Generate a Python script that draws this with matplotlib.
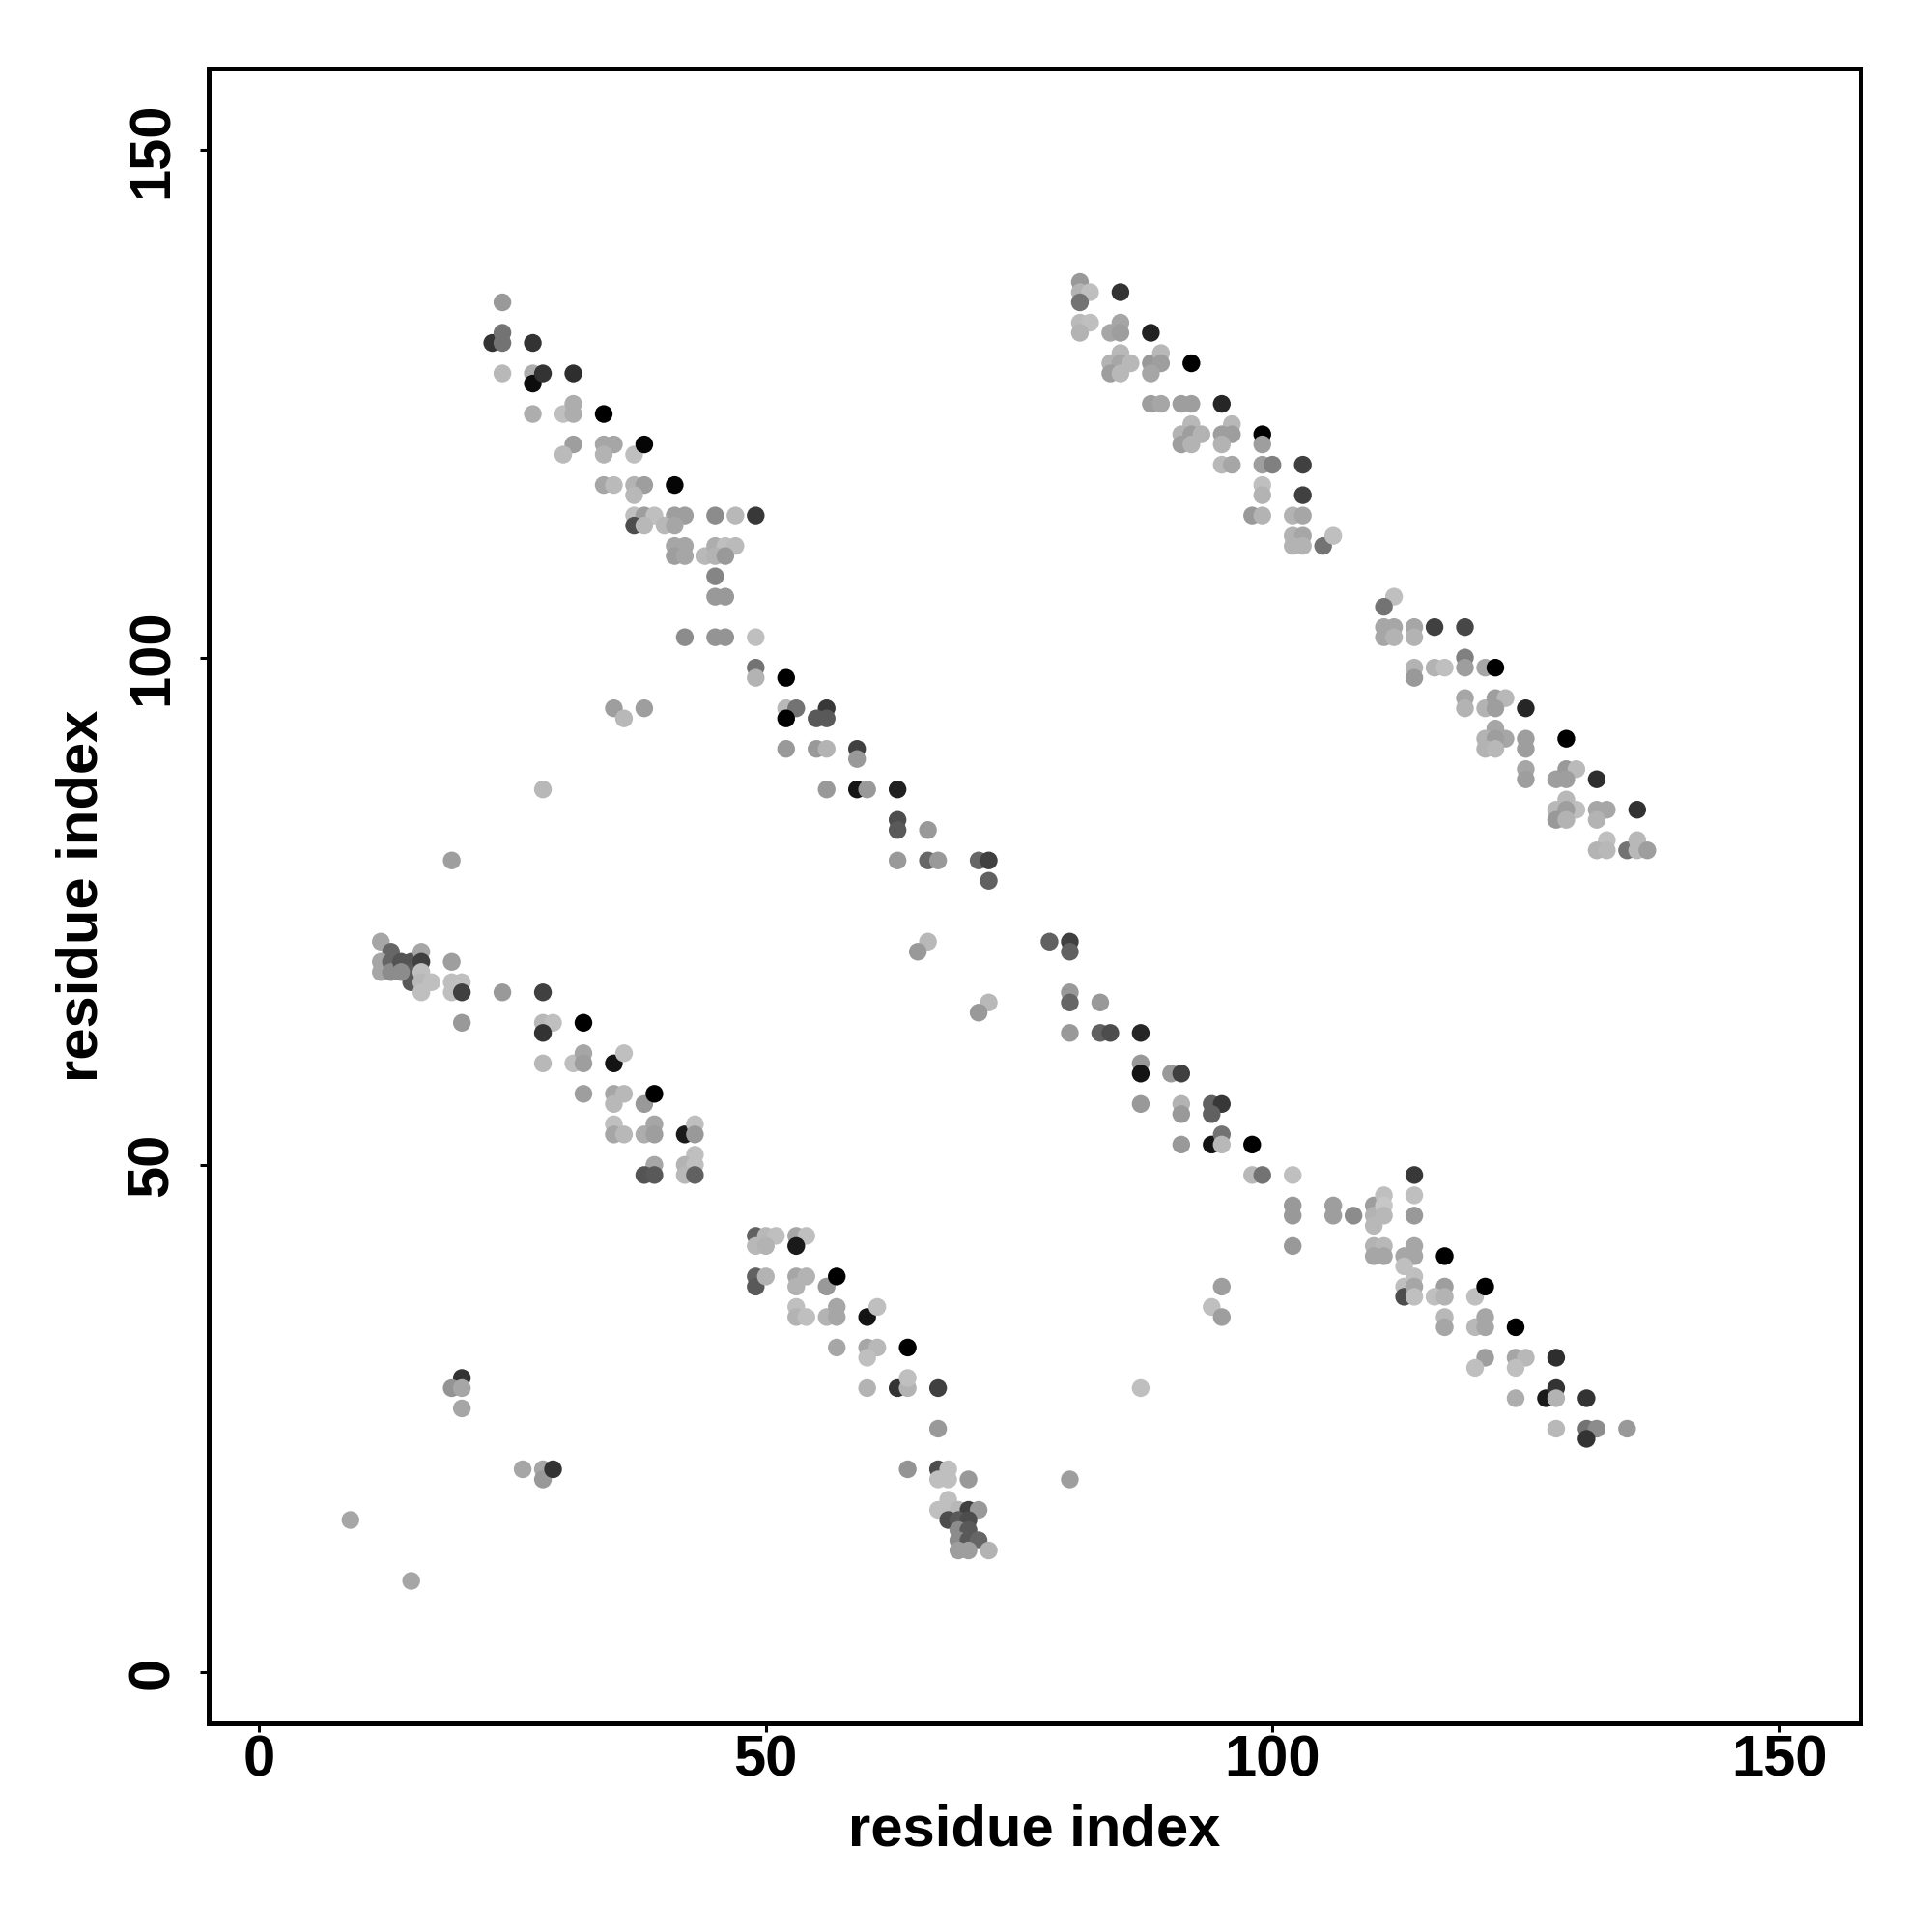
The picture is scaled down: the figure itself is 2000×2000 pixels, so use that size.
import matplotlib
matplotlib.use("Agg")
import matplotlib.pyplot as plt

plt.rcParams['font.family'] = ['Liberation Sans', 'DejaVu Sans']

# ---- data: contact pairs (residue i, residue j) and gray level of each point ----
# upper-left band
ul_x = [24, 23, 24, 24, 27, 24, 27, 27, 28, 31, 27, 30, 31, 31, 34, 31, 30, 34, 35, 34,
        37, 38, 34, 35, 37, 38, 37, 41, 37, 38, 39, 41, 42, 37, 38, 40, 41, 45, 47, 49,
        41, 42, 41, 42, 44, 45, 46, 47, 45, 46, 45, 45, 46, 42, 45, 46, 49, 49, 49, 52,
        52, 53, 52, 56, 55, 56, 52, 55, 56, 59, 59, 56, 59, 60, 63, 63, 63, 66, 63, 66,
        67, 71, 72, 72]
ul_y = [135, 131, 132, 131, 131, 128, 128, 127, 128, 128, 124, 124, 125, 124, 124, 121, 120, 121, 121, 120,
        120, 121, 117, 117, 117, 117, 116, 117, 114, 114, 114, 114, 114, 113, 113, 113, 113, 114, 114, 114,
        111, 111, 110, 110, 110, 111, 111, 111, 110, 110, 108, 106, 106, 102, 102, 102, 102, 99, 98, 98,
        95, 95, 94, 95, 94, 94, 91, 91, 91, 91, 90, 87, 87, 87, 87, 84, 83, 83, 80, 80,
        80, 80, 80, 78]
ul_g = [.60, .20, .45, .45, .20, .72, .68, .05, .20, .18, .68, .75, .68, .68, .00, .62, .73, .65, .65, .70,
        .75, .02, .65, .73, .70, .62, .72, .02, .75, .62, .75, .62, .62, .30, .72, .72, .65, .55, .72, .22,
        .65, .65, .62, .65, .72, .68, .75, .73, .70, .60, .52, .60, .60, .55, .58, .58, .75, .45, .70, .00,
        .72, .45, .00, .22, .35, .35, .60, .60, .70, .25, .60, .60, .08, .60, .13, .30, .35, .60, .60, .40,
        .60, .40, .25, .38]

# isolated contacts
iso_x = [35, 36, 38, 28, 19, 66, 65, 72, 71, 87, 80, 94, 95, 95, 9, 15, 20, 19, 20, 20, 26, 28, 28, 29]
iso_y = [95, 94, 95, 87, 80, 72, 71, 66, 65, 28, 19, 36, 35, 38, 15, 9, 29, 28, 28, 26, 20, 20, 19, 20]
iso_g = [.62, .72, .62, .72, .62, .72, .60, .72, .60, .75, .62, .75, .62, .62, .65, .65, .20, .58, .65, .65,
         .65, .65, .60, .20]

# lower-left band, first segment
ll1_x = [12, 13, 12, 12, 13, 13, 14, 15, 15, 15, 14, 16, 16, 16, 16, 16, 17, 19, 19, 20,
         19, 20, 24, 28, 20, 28, 29, 28, 32, 28, 31, 32, 32, 35, 36, 32, 35, 36, 35, 38,
         39, 35, 35, 36, 38, 39, 39, 42, 43, 43, 39, 43, 42, 43, 38, 39, 42, 43]
ll1_y = [72, 71, 70, 69, 70, 69, 70, 70, 69, 68, 69, 71, 70, 69, 68, 67, 68, 70, 68, 68,
         67, 67, 67, 67, 64, 64, 64, 63, 64, 60, 60, 61, 60, 60, 61, 57, 57, 57, 56, 56,
         57, 54, 53, 53, 53, 54, 53, 53, 54, 53, 50, 51, 50, 50, 49, 49, 49, 49]
ll1_g = [.65, .40, .65, .65, .40, .55, .33, .33, .35, .35, .55, .65, .25, .75, .72, .75, .75, .62, .75, .75,
         .75, .25, .60, .25, .60, .72, .75, .20, .00, .72, .75, .65, .62, .08, .75, .62, .65, .72, .72, .60,
         .00, .75, .65, .72, .68, .65, .62, .10, .75, .60, .65, .75, .70, .75, .33, .35, .72, .38]

# lower-left band, second segment
ll2_x = [49, 50, 51, 49, 50, 53, 54, 53, 49, 49, 50, 53, 54, 53, 56, 57, 53, 53, 54, 56,
         57, 57, 60, 61, 57, 60, 61, 60, 64, 60, 63, 64, 64, 67, 67, 64, 67, 68, 67, 68,
         70, 68, 67, 68, 69, 70, 71, 68, 69, 70, 69, 70, 69, 70, 71, 69, 70, 72]
ll2_y = [43, 43, 43, 42, 42, 43, 43, 42, 39, 38, 39, 39, 39, 38, 38, 39, 36, 35, 35, 35,
         36, 35, 35, 36, 32, 32, 32, 31, 32, 28, 28, 28, 29, 28, 24, 20, 20, 20, 19, 19,
         19, 17, 16, 16, 16, 16, 16, 15, 15, 15, 14, 14, 13, 13, 13, 12, 12, 12]
ll2_g = [.38, .72, .75, .72, .70, .65, .75, .10, .38, .35, .70, .65, .70, .70, .60, .00, .75, .70, .75, .70,
         .65, .65, .08, .75, .65, .65, .72, .75, .00, .70, .20, .70, .75, .25, .60, .58, .30, .75, .75, .75,
         .60, .75, .75, .75, .72, .25, .60, .30, .35, .30, .55, .35, .55, .35, .40, .62, .62, .70]

# upper-right band
ur_x = [81, 81, 82, 81, 85, 81, 82, 81, 85, 84, 85, 88, 85, 84, 85, 86, 84, 85, 88, 89,
        89, 88, 92, 88, 89, 91, 92, 95, 92, 91, 92, 93, 91, 92, 96, 95, 96, 95, 99, 99,
        95, 96, 99, 100, 103, 99, 99, 103, 98, 99, 102, 103, 102, 103, 102, 103, 105, 106,
        112, 111, 111, 112, 111, 112, 114, 114, 116, 119, 119, 119, 114, 114, 116, 117, 121, 122,
        119, 119, 121, 122, 123, 122, 125, 122, 121, 123, 122, 121, 122, 125, 125, 129, 125, 125,
        128, 129, 130, 129, 132, 129, 128, 130, 129, 128, 129, 132, 133, 132, 136, 133, 132, 133,
        135, 136, 136, 137]
ur_y = [137, 136, 136, 135, 136, 133, 133, 132, 133, 132, 132, 132, 130, 129, 129, 129, 128, 128, 129, 130,
        129, 128, 129, 125, 125, 125, 125, 125, 123, 122, 122, 122, 121, 121, 123, 122, 122, 121, 122, 121,
        119, 119, 119, 119, 119, 117, 116, 116, 114, 114, 114, 114, 112, 112, 111, 111, 111, 112,
        106, 105, 103, 103, 102, 102, 103, 102, 103, 103, 100, 99, 99, 98, 99, 99, 99, 99,
        96, 95, 95, 96, 96, 95, 95, 93, 92, 92, 92, 91, 91, 92, 91, 92, 89, 88,
        88, 89, 89, 88, 88, 86, 85, 85, 85, 84, 84, 85, 85, 84, 85, 82, 81, 81,
        81, 82, 81, 81]
ur_g = [.60, .70, .75, .45, .20, .73, .75, .70, .65, .65, .62, .13, .72, .70, .65, .72, .62, .72, .60, .72,
        .62, .65, .00, .62, .65, .62, .62, .15, .72, .70, .62, .70, .62, .70, .72, .62, .62, .70, .00, .62,
        .72, .65, .62, .50, .25, .75, .70, .25, .60, .70, .70, .65, .70, .65, .70, .70, .45, .75,
        .75, .45, .65, .65, .65, .70, .65, .70, .25, .28, .50, .62, .70, .60, .70, .75, .65, .00,
        .65, .70, .70, .62, .72, .62, .15, .65, .70, .65, .62, .70, .72, .62, .62, .00, .65, .62,
        .62, .60, .73, .62, .18, .72, .72, .75, .62, .60, .70, .65, .65, .70, .20, .75, .70, .72,
        .45, .72, .72, .62]

# lower-right band
lr_x = [78, 80, 80, 80, 80, 83, 80, 83, 84, 87, 87, 87, 90, 91, 87, 91, 91, 94, 95, 94,
        91, 94, 95, 95, 98, 98, 99, 102, 114, 102, 102, 106, 106, 108, 110, 110, 110, 111, 111, 111,
        114, 114, 102, 110, 111, 110, 111, 113, 114, 114, 113, 114, 113, 113, 114, 114, 117, 117, 116, 117,
        120, 121, 117, 117, 120, 121, 121, 124, 121, 120, 124, 125, 124, 128, 124, 127, 128, 128, 131, 128,
        131, 132, 131, 135]
lr_y = [72, 72, 71, 67, 66, 66, 63, 63, 63, 63, 60, 59, 59, 59, 56, 56, 55, 56, 56, 55,
        52, 52, 53, 52, 52, 49, 49, 49, 49, 46, 45, 46, 45, 45, 46, 45, 44, 47, 46, 45,
        47, 45, 42, 42, 42, 41, 41, 41, 42, 41, 40, 39, 38, 37, 38, 37, 41, 38, 37, 37,
        37, 38, 35, 34, 34, 35, 34, 34, 31, 30, 31, 31, 30, 31, 27, 27, 28, 27, 27, 24,
        24, 24, 23, 24]
lr_g = [.38, .25, .38, .60, .40, .60, .60, .38, .30, .15, .60, .08, .60, .25, .60, .70, .60, .38, .22, .38,
        .60, .08, .45, .72, .00, .72, .45, .75, .22, .60, .60, .62, .62, .55, .62, .70, .72, .75, .78, .72,
        .75, .60, .60, .70, .72, .65, .65, .65, .65, .65, .75, .75, .75, .30, .65, .75, .00, .62, .75, .70,
        .75, .00, .72, .65, .72, .65, .65, .00, .62, .75, .65, .72, .75, .18, .68, .10, .20, .70, .20, .72,
        .45, .55, .20, .60]

tick_values = [0, 50, 100, 150]
axis_label = "residue index"

# ---- figure ----
fig = plt.figure(figsize=(20, 20), dpi=100)
ax = fig.add_axes([0.10775, 0.108, 0.85525, 0.8565])

groups = [(ul_x, ul_y, ul_g), (iso_x, iso_y, iso_g), (ll1_x, ll1_y, ll1_g),
          (ll2_x, ll2_y, ll2_g), (ur_x, ur_y, ur_g), (lr_x, lr_y, lr_g)]
for xs, ys, gs in groups:
    ax.scatter(xs, ys, s=175, c=[(g, g, g) for g in gs], edgecolors='none', zorder=3)

ax.set_xlim(-5.04, 158.04)
ax.set_ylim(-5.04, 158.04)
ax.set_xticks(tick_values)
ax.set_yticks(tick_values)

for sp in ax.spines.values():
    sp.set_linewidth(3.6)

ax.tick_params(axis='both', direction='out', length=6.5, width=2.2, labelsize=43)
ax.tick_params(axis='x', pad=1.5)
ax.tick_params(axis='y', pad=15, labelrotation=90)
for lab in ax.get_xticklabels() + ax.get_yticklabels():
    lab.set_fontweight('bold')
for lab in ax.get_yticklabels():
    lab.set_va('center')

ax.set_xlabel(axis_label, fontsize=43, fontweight='bold')
ax.set_ylabel(axis_label, fontsize=43, fontweight='bold')
ax.xaxis.set_label_coords(0.5, -0.0485)
ax.yaxis.set_label_coords(-0.0602, 0.5)

fig.savefig("out.png", dpi=100, facecolor='white')
